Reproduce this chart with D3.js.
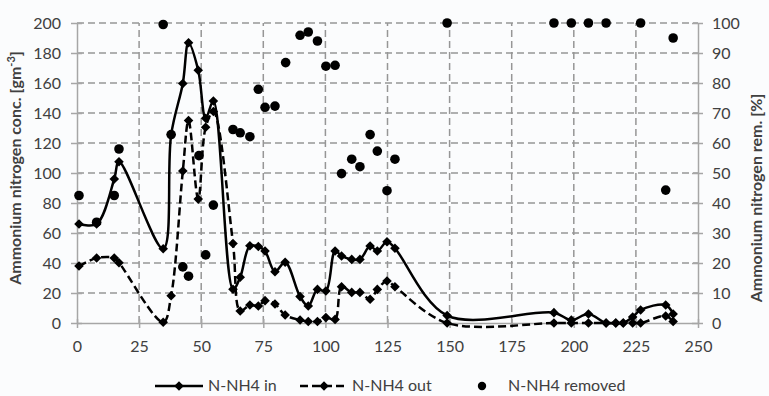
<!DOCTYPE html>
<html>
<head>
<meta charset="utf-8">
<script src="https://cdn.jsdelivr.net/npm/d3@7"></script>
<style>
  html, body { margin: 0; padding: 0; background: #fbfcfd; }
  svg { display: block; }
  text { font-family: Lato, "Open Sans", sans-serif; fill: #404040; }
</style>
</head>
<body>
<svg id="chart" width="769" height="396"></svg>
<script>
// Sampling days shared by the inflow / outflow series
const days = [0.8, 7.9, 15, 16.9, 34.7, 37.9, 42.6, 44.9, 48.8, 51.8, 54.9, 62.8, 65.7, 69.6, 73, 75.7, 79.7, 83.8, 89.8, 93.1, 96.8, 100.2, 103.9, 106.5, 110.6, 113.9, 118, 120.9, 124.8, 128, 149, 192, 199, 205.9, 213, 216.9, 219.9, 223.7, 226.9, 237, 240];
// N-NH4 inflow concentration [g m-3]
const nh4In = [66, 66, 96, 107.5, 49.5, 125.5, 159.7, 186.8, 168.5, 136.5, 148, 22.5, 30.5, 51.5, 51, 48, 34.2, 40.5, 17.6, 11.3, 22.4, 21.3, 48, 44.7, 42.4, 42.4, 51.3, 48, 54.2, 49.8, 5, 6.9, 2, 6, 0, 0, 0, 4, 8.7, 12, 6];
// N-NH4 outflow concentration [g m-3]
const nh4Out = [38, 43.3, 43.3, 40.2, 0.5, 18.2, 101.3, 135, 82.6, 130.5, 141, 53, 8, 12, 11.3, 14.9, 12.7, 5.3, 2, 1, 1, 3.6, 2.4, 24.2, 20.4, 20.4, 15.8, 22.4, 28, 24.2, 0, 0, 0, 0, 0, 0, 0, 0, 0, 4.7, 1];
// N-NH4 removal efficiency [%]
const daysRemoved = [0.8, 7.9, 15, 16.9, 34.7, 37.9, 42.6, 44.9, 49.1, 51.8, 54.9, 62.8, 65.7, 69.6, 73, 75.7, 79.7, 84, 89.8, 93.1, 96.8, 100.2, 103.9, 106.5, 110.6, 113.9, 118, 120.9, 124.8, 128, 149, 192, 199, 205.9, 213, 226.9, 237, 240];
const nh4Removed = [42.5, 33.6, 42.5, 58, 99.5, 62.8, 18.7, 15.6, 55.8, 22.7, 39.3, 64.5, 63.4, 62.1, 77.9, 71.9, 72.3, 86.8, 95.9, 97, 94, 85.6, 85.9, 49.8, 54.6, 52.1, 62.8, 57.3, 44.1, 54.6, 100, 100, 100, 100, 100, 100, 44.3, 95];

const xTicks = [0, 25, 50, 75, 100, 125, 150, 175, 200, 225, 250];
const yLeftTicks = [0, 20, 40, 60, 80, 100, 120, 140, 160, 180, 200];
const yRightTicks = [0, 10, 20, 30, 40, 50, 60, 70, 80, 90, 100];

const seriesNames = ["N-NH4 in", "N-NH4 out", "N-NH4 removed"];

const svg = d3.select("#chart");
const m = { left: 77, right: 698, top: 23, bottom: 323 };

const x = d3.scaleLinear().domain([0, 250]).range([m.left, m.right]);
const yL = d3.scaleLinear().domain([0, 200]).range([m.bottom, m.top]);
const yR = d3.scaleLinear().domain([0, 100]).range([m.bottom, m.top]);

const gridColor = "#969696";
const axisColor = "#a6a6a6";
const labelFont = "16px";

// dashed grid
const grid = svg.append("g");
grid.selectAll("line.h").data(yLeftTicks.filter(d => d > 0)).join("line")
  .attr("x1", m.left).attr("x2", m.right)
  .attr("y1", d => yL(d)).attr("y2", d => yL(d))
  .attr("stroke", gridColor).attr("stroke-width", 1.5).attr("stroke-dasharray", "7,4");
grid.selectAll("line.v").data(xTicks.filter(d => d > 0 && d < 250)).join("line")
  .attr("y1", m.bottom).attr("y2", m.top)
  .attr("x1", d => x(d)).attr("x2", d => x(d))
  .attr("stroke", gridColor).attr("stroke-width", 1.5).attr("stroke-dasharray", "7,4");

// axes
function styleAxis(g) {
  g.select(".domain").attr("stroke", axisColor).attr("stroke-width", 1.5);
  g.selectAll(".tick line").attr("stroke", axisColor).attr("stroke-width", 1.5);
  g.selectAll(".tick text").attr("fill", "#3a3a3a").style("font-size", labelFont)
    .style("font-family", "Lato, 'Open Sans', sans-serif");
}

svg.append("g").attr("transform", `translate(0,${m.bottom})`)
  .call(d3.axisBottom(x).tickValues(xTicks).tickSize(5).tickPadding(13).tickSizeOuter(0))
  .call(styleAxis)
  .call(g => g.selectAll(".tick line").attr("y1", -4).attr("y2", 5));

svg.append("g").attr("transform", `translate(${m.left},0)`)
  .call(d3.axisLeft(yL).tickValues(yLeftTicks).tickSize(6).tickPadding(10).tickSizeOuter(0))
  .call(styleAxis)
  .call(g => g.selectAll(".tick line").attr("x1", 5).attr("x2", -6));

svg.append("g").attr("transform", `translate(${m.right},0)`)
  .call(d3.axisRight(yR).tickValues(yRightTicks).tickSize(6).tickPadding(8).tickSizeOuter(0))
  .call(styleAxis)
  .call(g => g.selectAll(".tick line").attr("x1", -6).attr("x2", 5));

// axis titles
svg.append("text")
  .attr("transform", `translate(21,168) rotate(-90)`)
  .attr("text-anchor", "middle")
  .style("font-size", "16px").style("font-weight", "bold").attr("fill", "#1a1a1a")
  .call(t => {
    t.append("tspan").text("Ammonium nitrogen conc. [gm");
    t.append("tspan").attr("dy", -6).style("font-size", "11px").text("-3");
    t.append("tspan").attr("dy", 6).text("]");
  });

svg.append("text")
  .attr("transform", `translate(762,198) rotate(-90)`)
  .attr("text-anchor", "middle")
  .style("font-size", "16px").style("font-weight", "bold").attr("fill", "#1a1a1a")
  .text("Ammonium nitrogen rem. [%]");

// smoothed lines
const pts = (vals) => days.map((d, i) => [d, vals[i]]);
const line = d3.line().x(d => x(d[0])).y(d => yL(d[1])).curve(d3.curveCatmullRom.alpha(0.5));

svg.append("path").attr("d", line(pts(nh4In)))
  .attr("fill", "none").attr("stroke", "#000").attr("stroke-width", 2.5);
svg.append("path").attr("d", line(pts(nh4Out)))
  .attr("fill", "none").attr("stroke", "#000").attr("stroke-width", 2.5)
  .attr("stroke-dasharray", "8,4");

const diamond = d3.symbol().type(d3.symbolSquare).size(46);

function drawDiamonds(vals) {
  svg.append("g").selectAll("path").data(pts(vals)).join("path")
    .attr("d", diamond)
    .attr("transform", d => `translate(${x(d[0])},${yL(d[1])}) rotate(45)`)
    .attr("fill", "#000");
}
drawDiamonds(nh4In);
drawDiamonds(nh4Out);

// removal efficiency markers
svg.append("g").selectAll("circle").data(daysRemoved.map((d, i) => [d, nh4Removed[i]])).join("circle")
  .attr("cx", d => x(d[0])).attr("cy", d => yR(d[1])).attr("r", 4.8)
  .attr("fill", "#000");

// legend
const ly = 386;
const lg = svg.append("g");
lg.append("line").attr("x1", 155).attr("x2", 203).attr("y1", ly).attr("y2", ly)
  .attr("stroke", "#000").attr("stroke-width", 2.5);
lg.append("path").attr("d", diamond).attr("transform", `translate(179,${ly}) rotate(45)`).attr("fill", "#000");
lg.append("text").attr("x", 208).attr("y", ly + 5).style("font-size", labelFont).attr("fill", "#1a1a1a").text(seriesNames[0]);

lg.append("line").attr("x1", 300).attr("x2", 348).attr("y1", ly).attr("y2", ly)
  .attr("stroke", "#000").attr("stroke-width", 2.5).attr("stroke-dasharray", "8,4");
lg.append("path").attr("d", diamond).attr("transform", `translate(324,${ly}) rotate(45)`).attr("fill", "#000");
lg.append("text").attr("x", 352).attr("y", ly + 5).style("font-size", labelFont).attr("fill", "#1a1a1a").text(seriesNames[1]);

lg.append("circle").attr("cx", 482).attr("cy", ly).attr("r", 4.2).attr("fill", "#000");
lg.append("text").attr("x", 508).attr("y", ly + 5).style("font-size", labelFont).attr("fill", "#1a1a1a").text(seriesNames[2]);
</script>
</body>
</html>
